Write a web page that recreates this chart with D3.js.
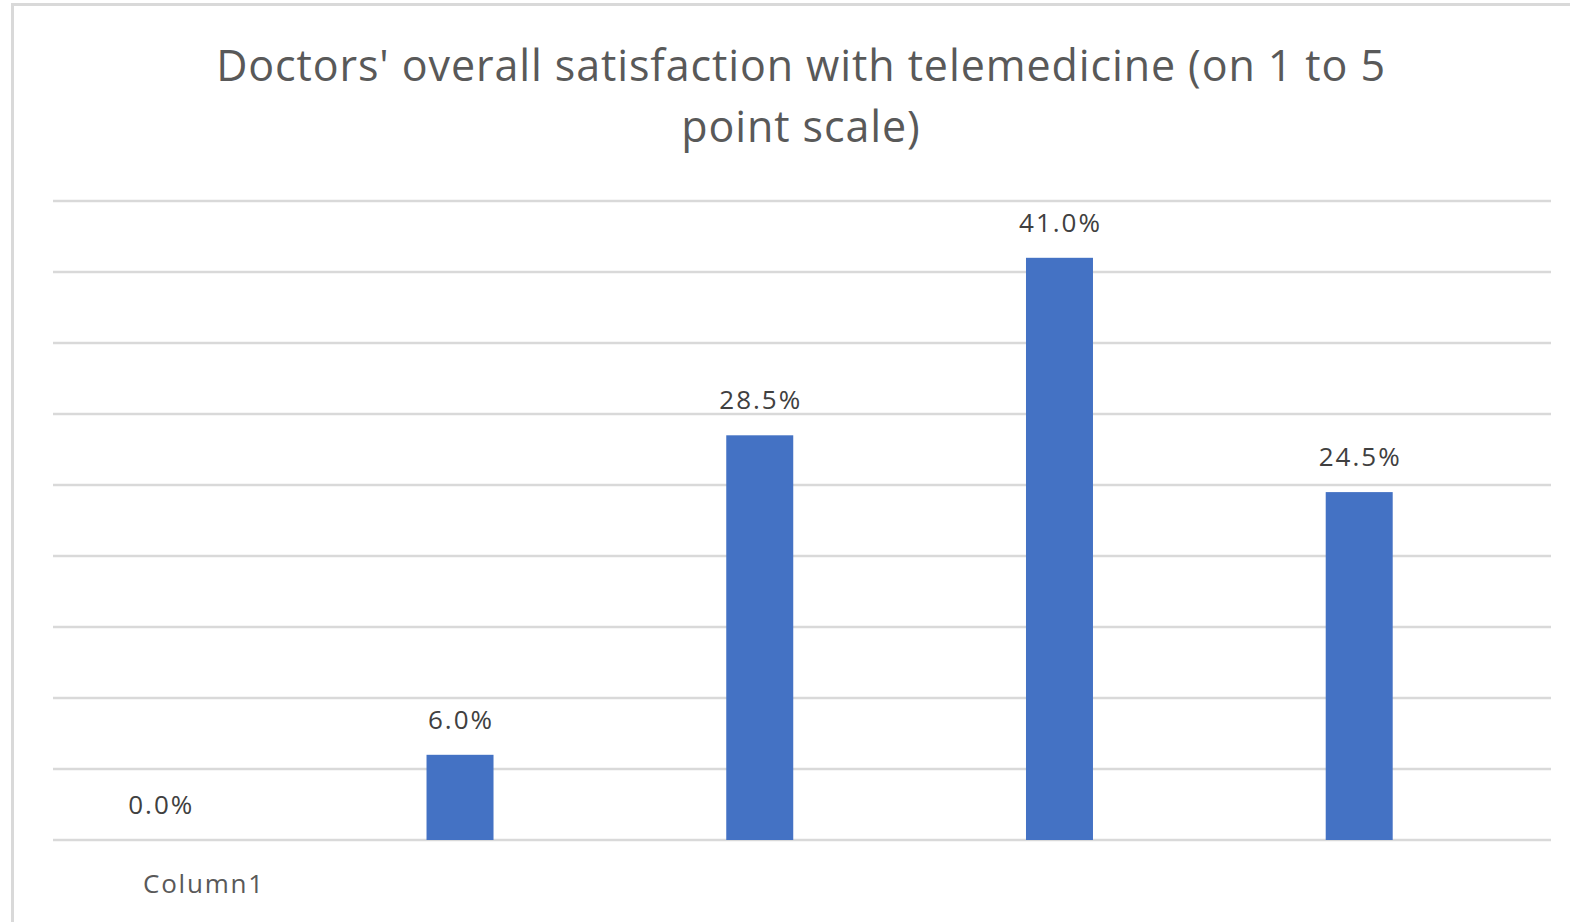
<!DOCTYPE html>
<html>
<head>
<meta charset="utf-8">
<script src="https://cdn.jsdelivr.net/npm/d3@7"></script>
<style>
  body { margin: 0; background: #fff; }
  svg { display: block; font-family: "Open Sans", "Noto Sans", sans-serif; }
  .title { fill: #595959; font-size: 43px; letter-spacing: 0.9px; }
  .label { fill: #404040; font-size: 26px; letter-spacing: 2px; }
  .legend { fill: #595959; font-size: 26px; letter-spacing: 1.8px; }
</style>
</head>
<body>
<svg width="1570" height="922"></svg>
<script>
var categories = ["1", "2", "3", "4", "5"];
var values = [0.0, 6.0, 28.5, 41.0, 24.5];
var yTicks = [0, 5, 10, 15, 20, 25, 30, 35, 40, 45];
var titleLines = ["Doctors' overall satisfaction with telemedicine (on 1 to 5", "point scale)"];
var seriesName = "Column1";

var svg = d3.select("svg");

// chart frame (cropped on right and bottom)
svg.append("path")
    .attr("d", "M12.5,922 V4.5 H1570")
    .attr("fill", "none")
    .attr("stroke", "#d9d9d9")
    .attr("stroke-width", 3);

var data = categories.map(function(c, i) { return { cat: c, value: values[i] }; });

var xScale = d3.scaleBand()
    .domain(categories)
    .range([10.5, 1509])
    .paddingInner(0.7765)
    .paddingOuter(0.388);

var yScale = d3.scaleLinear().domain([0, 45]).range([840, 201]);

// gridlines
svg.append("g")
    .selectAll("line")
    .data(yTicks)
    .enter()
    .append("line")
    .attr("x1", 53)
    .attr("x2", 1551)
    .attr("y1", (d) => yScale(d))
    .attr("y2", (d) => yScale(d))
    .attr("stroke", "#d9d9d9")
    .attr("stroke-width", 2.5);

// title
svg.append("text")
    .attr("class", "title")
    .attr("text-anchor", "middle")
    .selectAll("tspan")
    .data(titleLines)
    .enter()
    .append("tspan")
    .attr("x", 801)
    .attr("y", (d, i) => 81 + i * 61)
    .text((d) => d);

var g = svg.append("g");

g.selectAll(".bar")
    .data(data)
    .enter()
    .append("rect")
    .attr("class", "bar")
    .attr("x", (d) => xScale(d.cat))
    .attr("y", (d) => yScale(d.value))
    .attr("width", xScale.bandwidth())
    .attr("height", (d) => yScale(0) - yScale(d.value))
    .attr("fill", "#4472c4");

g.selectAll(".label")
    .data(data)
    .enter()
    .append("text")
    .attr("class", "label")
    .attr("text-anchor", "middle")
    .attr("x", (d) => xScale(d.cat) + xScale.bandwidth() / 2 + 1)
    .attr("y", (d) => yScale(d.value) - 26)
    .text((d) => d.value.toFixed(1) + "%");

svg.append("text")
    .attr("class", "legend")
    .attr("x", 143)
    .attr("y", 893)
    .text(seriesName);
</script>
</body>
</html>
